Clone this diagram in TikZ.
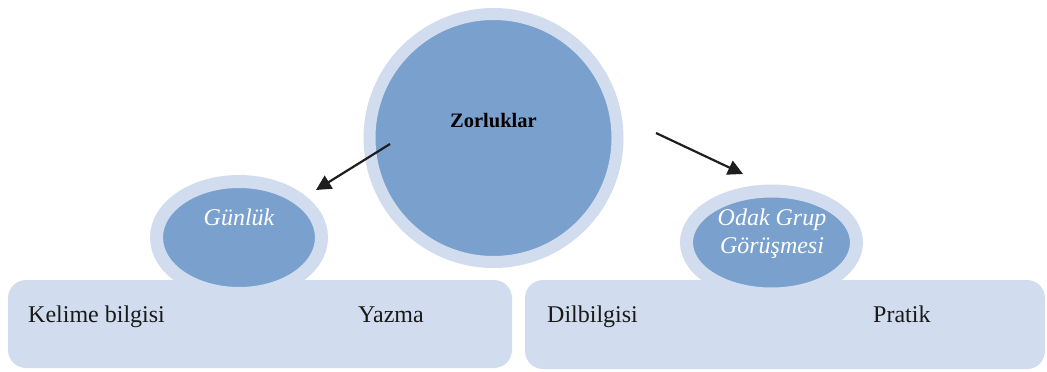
\documentclass[tikz,border=0pt]{standalone}
\usepackage{fontspec}
\setmainfont{Liberation Serif}
\usetikzlibrary{shapes.geometric,arrows.meta}
\definecolor{ringblue}{RGB}{209,221,238}
\definecolor{coreblue}{RGB}{122,160,206}
\definecolor{arrowgray}{RGB}{30,30,30}
\tikzset{
  panel/.style={fill=ringblue, draw=none, rounded corners=18pt, inner sep=0pt},
  hub/.style={circle, fill=coreblue, draw=ringblue, line width=12pt, inner sep=0pt},
  bubble/.style={ellipse, fill=coreblue, draw=ringblue, line width=13pt, inner sep=0pt},
  itemtext/.style={anchor=base west, inner sep=0pt, font=\fontsize{24}{28}\selectfont, text=black!90},
  bubbletext/.style={anchor=base, inner sep=0pt, font=\fontsize{24}{28}\selectfont\itshape, text=white},
  hubtext/.style={anchor=base, inner sep=0pt, font=\fontsize{20.5}{24}\selectfont\bfseries, text=black},
  link/.style={draw=arrowgray, line width=2.2pt, -{Triangle[length=15pt,width=15pt]}}
}
\begin{document}
\begin{tikzpicture}[x=1pt,y=-1pt]
\useasboundingbox (0,0) rectangle (1047,372);

% lower panels
\node[panel, minimum width=504pt, minimum height=88pt] (leftpanel) at (260,324) {};
\node[panel, minimum width=520pt, minimum height=89pt] (rightpanel) at (785,324.5) {};

% central circle and the two bubbles
\node[hub, minimum size=248pt] (hub) at (493.5,138) {};
\node[bubble, minimum width=165pt, minimum height=112pt] (diary) at (239,237.5) {};
\node[bubble, minimum width=170pt, minimum height=103pt] (focus) at (771.5,242.5) {};

% labels
\node[hubtext] (hubt) at (493.5,127) {Zorluklar};
\node[bubbletext] (diaryt) at (239,225) {Günlük};
\node[bubbletext] (focust1) at (772,225) {Odak Grup};
\node[bubbletext] (focust2) at (772,253) {Görüşmesi};

\node[itemtext] (kelime) at (28,322) {Kelime bilgisi};
\node[itemtext] (yazma) at (358,322) {Yazma};
\node[itemtext] (dil) at (547,322) {Dilbilgisi};
\node[itemtext] (pratik) at (873,322) {Pratik};

% arrows
\coordinate (lstart) at (390,144);
\coordinate (lend) at (316,190);
\coordinate (rstart) at (656,133);
\coordinate (rend) at (743,174);
\draw[link] (lstart) -- (lend);
\draw[link] (rstart) -- (rend);
\end{tikzpicture}
\end{document}
